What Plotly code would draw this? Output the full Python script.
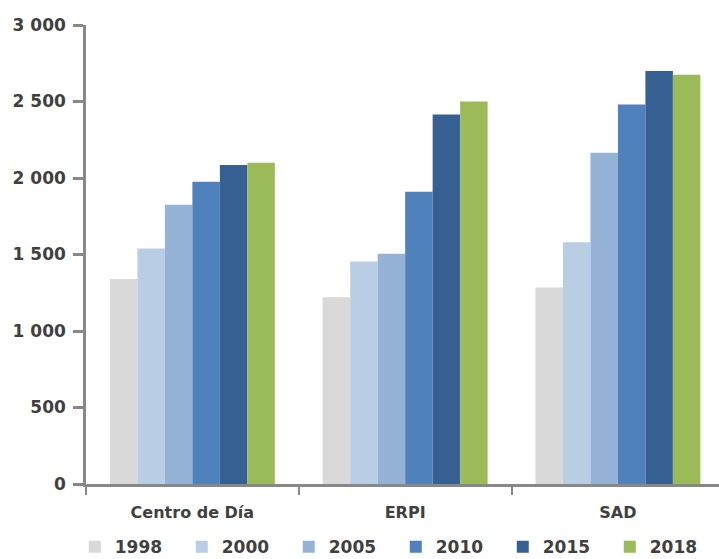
import plotly.graph_objects as go

# Users per service type, by year
categories = ["Centro de Día", "ERPI", "SAD"]
years = ["1998", "2000", "2005", "2010", "2015", "2018"]
values_1998 = [1340, 1220, 1285]
values_2000 = [1540, 1455, 1580]
values_2005 = [1825, 1505, 2165]
values_2010 = [1975, 1910, 2480]
values_2015 = [2085, 2415, 2700]
values_2018 = [2100, 2500, 2675]
series = [values_1998, values_2000, values_2005, values_2010, values_2015, values_2018]

ytick_vals = [0, 500, 1000, 1500, 2000, 2500, 3000]
ytick_text = ["0", "500", "1 000", "1 500", "2 000", "2 500", "3 000"]

colors = ["#D9D9D9", "#B9CDE5", "#95B3D7", "#4F81BD", "#376092", "#9BBB59"]

font_family = "DejaVu Sans"
text_color = "#404040"
axis_color = "#888888"

fig = go.Figure()
for i, (year, vals, col) in enumerate(zip(years, series, colors)):
    last = i == len(years) - 1
    fig.add_trace(go.Bar(
        name=year,
        x=categories,
        y=vals,
        marker=dict(color=col, line=dict(width=0)),
        legendwidth=45 if last else 62,
    ))

fig.update_layout(
    width=719,
    height=559,
    barmode="group",
    bargap=0.225,
    bargroupgap=0,
    plot_bgcolor="white",
    paper_bgcolor="white",
    margin=dict(l=86, r=0, t=25, b=75, pad=0),
    font=dict(family=font_family, size=17, color=text_color, weight="bold"),
    showlegend=True,
    legend=dict(
        orientation="h",
        xref="container", yref="container",
        x=0.104, y=0.021,
        xanchor="left", yanchor="middle",
        entrywidthmode="pixels",
        font=dict(family=font_family, size=17, color=text_color, weight="bold"),
        bgcolor="rgba(0,0,0,0)",
        traceorder="normal",
    ),
)

fig.update_xaxes(
    range=[-0.5, 2.475],
    showline=True,
    linecolor=axis_color,
    linewidth=2.5,
    ticks="outside",
    tickson="boundaries",
    ticklen=8,
    tickwidth=2,
    tickcolor=axis_color,
    showgrid=False,
    zeroline=False,
    ticklabelstandoff=12,
    tickfont=dict(family=font_family, size=16, color=text_color, weight="bold"),
)

fig.update_yaxes(
    range=[0, 3000],
    tickvals=ytick_vals,
    ticktext=ytick_text,
    showline=True,
    linecolor=axis_color,
    linewidth=2.5,
    ticks="outside",
    ticklen=10,
    tickwidth=2.5,
    tickcolor=axis_color,
    showgrid=False,
    zeroline=False,
    ticklabelstandoff=4,
    tickfont=dict(family=font_family, size=17, color=text_color, weight="bold"),
)

fig.write_html("out.html")
